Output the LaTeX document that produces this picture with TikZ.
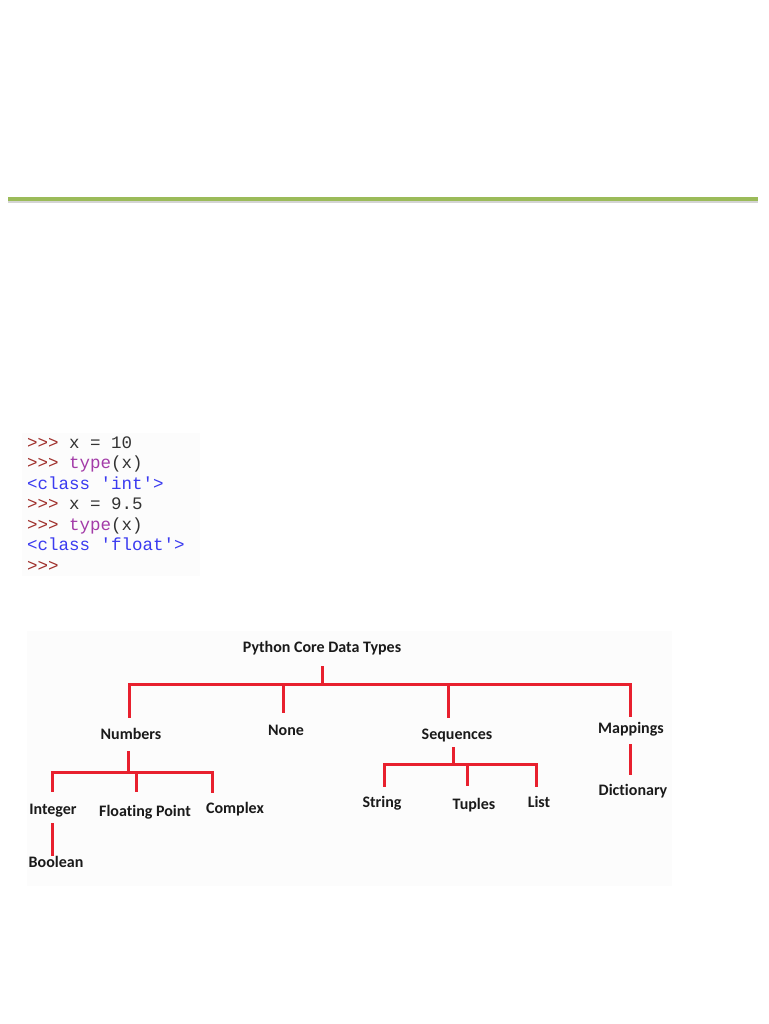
\documentclass[tikz,border=0pt]{standalone}
\usepackage{fontspec}
\setmainfont{Carlito}[Ligatures=NoCommon]
\newfontfamily\codefont[Ligatures=TeXOff]{Liberation Mono}
\usetikzlibrary{positioning}
\definecolor{cGreen}{HTML}{9BBB59}
\definecolor{cShade}{HTML}{B8B8B8}
\definecolor{cRed}{HTML}{E8202E}
\definecolor{cPrompt}{HTML}{A0302C}
\definecolor{cCall}{HTML}{A33BA8}
\definecolor{cOut}{HTML}{3A3AF0}
\definecolor{cCode}{HTML}{333333}
\definecolor{cPanel}{HTML}{FCFCFC}
\definecolor{cInk}{HTML}{1A1A1A}
\tikzset{
  tlbl/.style={font=\fontsize{16}{19}\selectfont\bfseries,text=cInk,inner sep=0pt,text height=11pt,text depth=3.5pt},
  rline/.style={draw=cRed,line width=3pt},
  codeln/.style={font=\codefont\fontsize{17.5}{20}\selectfont,text=cCode,inner sep=0pt,anchor=base west},
}
\newcommand{\prompt}{\textcolor{cPrompt}{>>>}}

\begin{document}
\begin{tikzpicture}[x=1pt,y=-1pt]
    \useasboundingbox (0,0) rectangle (768,1024);
    \fill[white] (0,0) rectangle (768,1024);
    % title rule
    \coordinate (ruleL) at (8,199);
    \coordinate (ruleR) at (758,199);
    \draw[cShade,line width=3pt,opacity=0.6] ([yshift=-2.5pt]ruleL) -- ([yshift=-2.5pt]ruleR);
    \draw[cGreen,line width=4pt] (ruleL) -- (ruleR);
    % interpreter session
    \fill[cPanel] (22,433) rectangle (200,576);
    \node[codeln] (c1) at (27,448) {\prompt{} x = 10};
    \node[codeln] (c2) at (27,468.5) {\prompt{} \textcolor{cCall}{type}(x)};
    \node[codeln,text=cOut] (c3) at (27,489) {<class 'int'>};
    \node[codeln] (c4) at (27,509.5) {\prompt{} x = 9.5};
    \node[codeln] (c5) at (27,530) {\prompt{} \textcolor{cCall}{type}(x)};
    \node[codeln,text=cOut] (c6) at (27,550.5) {<class 'float'>};
    \node[codeln] (c7) at (27,571) {\prompt};
    % type tree
    \fill[cPanel] (27,631) rectangle (672,886);
    \node[tlbl] (root) at (322,649) {Python Core Data Types};
    \node[tlbl] (num) at (131,736) {Numbers};
    \node[tlbl] (none) at (286,732) {None};
    \node[tlbl] (seq) at (457,736) {Sequences};
    \node[tlbl] (map) at (631,730) {Mappings};
    \node[tlbl] (int) at (53,811) {Integer};
    \node[tlbl] (flt) at (145,813) {Floating Point};
    \node[tlbl] (cplx) at (235,810) {Complex};
    \node[tlbl] (bool) at (56,864) {Boolean};
    \node[tlbl] (str) at (382,804) {String};
    \node[tlbl] (tup) at (474,806) {Tuples};
    \node[tlbl] (lst) at (539,804) {List};
    \node[tlbl] (dict) at (633,792) {Dictionary};
    \coordinate (rj) at (322,684);
    \coordinate (nj) at (128,772);
    \coordinate (sj) at (453,764);
    \draw[rline] ([yshift=-10pt]root.south) -- (rj);
    \draw[rline] ([xshift=-2pt,yshift=11pt]num.north) |- (rj);
    \draw[rline] ([xshift=-3pt,yshift=12pt]none.north) |- (rj);
    \draw[rline] ([xshift=-9pt,yshift=11pt]seq.north) |- (rj);
    \draw[rline] ([xshift=-1pt,yshift=6pt]map.north) |- (rj);
    \draw[rline] ([xshift=-3pt,yshift=-8pt]num.south) -- (nj);
    \draw[rline] ([xshift=-1pt,yshift=12pt]int.north) |- (nj);
    \draw[rline] ([xshift=-9pt,yshift=14pt]flt.north) |- (nj);
    \draw[rline] ([xshift=-23pt,yshift=10pt]cplx.north) |- (nj);
    \draw[rline] ([xshift=-1pt,yshift=-5pt]int.south) -- ([xshift=-4pt,yshift=1pt]bool.north);
    \draw[rline] ([xshift=-4pt,yshift=-4pt]seq.south) -- (sj);
    \draw[rline] ([xshift=2pt,yshift=10pt]str.north) |- (sj);
    \draw[rline] ([xshift=-7pt,yshift=13pt]tup.north) |- (sj);
    \draw[rline] ([xshift=-3pt,yshift=10pt]lst.north) |- (sj);
    \draw[rline] ([xshift=-1pt,yshift=-7pt]map.south) -- ([xshift=-3pt,yshift=10pt]dict.north);
\end{tikzpicture}
\end{document}
